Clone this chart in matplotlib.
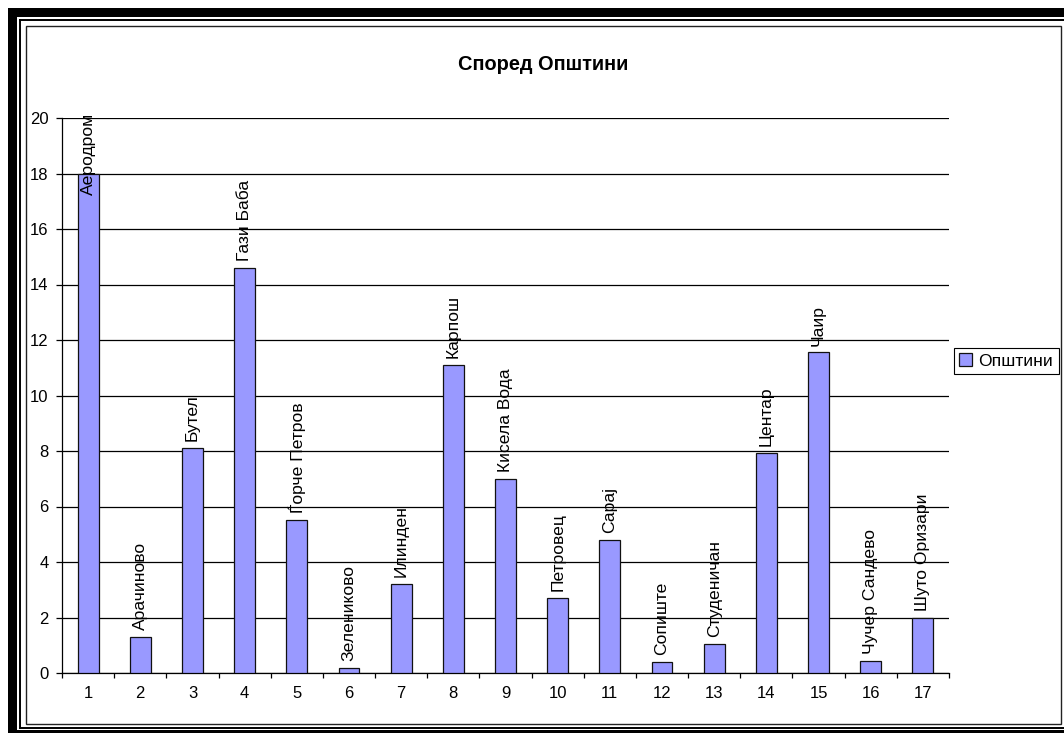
import matplotlib
matplotlib.use("Agg")
import matplotlib.pyplot as plt
from matplotlib.patches import Rectangle
from matplotlib.lines import Line2D

municipalities = [
    "Аеродром", "Арачиново", "Бутел", "Гази Баба", "Ѓорче Петров",
    "Зелениково", "Илинден", "Карпош", "Кисела Вода", "Петровец",
    "Сарај", "Сопиште", "Студеничан", "Центар", "Чаир",
    "Чучер Сандево", "Шуто Оризари",
]
positions = list(range(1, 18))
values = [18.0, 1.3, 8.1, 14.6, 5.5, 0.17, 3.2, 11.1, 7.0, 2.7,
          4.8, 0.41, 1.03, 7.94, 11.55, 0.45, 2.0]
y_ticks = list(range(0, 21, 2))
series_name = "Општини"
title = "Според Општини"

W, H = 1064, 733
plt.rcParams["font.family"] = ["Liberation Sans", "DejaVu Sans"]

fig = plt.figure(figsize=(W / 100, H / 100), dpi=100)
ax = fig.add_axes([62 / W, 1 - 673 / H, 887 / W, 555 / H])


def px_rect(x0, y0, x1, y1, **kw):
    # rectangle given in pixel coords, origin top-left
    fig.add_artist(Rectangle((x0 / W, 1 - y1 / H), (x1 - x0) / W, (y1 - y0) / H,
                             transform=fig.transFigure, **kw))


def px_line(xs, ys, **kw):
    fig.add_artist(Line2D([x / W for x in xs], [1 - y / H for y in ys],
                          transform=fig.transFigure, **kw))


# page frame
px_rect(8, 8, 17, 733, facecolor="black", edgecolor="none")
px_rect(8, 8, 1064, 16.5, facecolor="black", edgecolor="none")
px_rect(8, 730, 1064, 733, facecolor="black", edgecolor="none")
px_line([19.7, 19.7], [19.7, 727.5], color="black", lw=1.4)
px_line([19.7, 1064], [19.7, 19.7], color="black", lw=1.4)
px_line([19.7, 1064], [727.5, 727.5], color="black", lw=1.4)
px_rect(25.5, 26, 1061, 723.5, facecolor="none", edgecolor="#222222", lw=1.0)

bars = ax.bar(positions, values, width=0.4, color="#9999FF",
              edgecolor="#111111", linewidth=0.9, zorder=3)

ax.set_xlim(0.5, 17.5)
ax.set_ylim(0, 20)
ax.set_yticks(y_ticks)
ax.set_axisbelow(True)
ax.yaxis.grid(True, color="black", linewidth=0.9)

ax.set_xticks([p - 0.5 for p in positions] + [positions[-1] + 0.5])
ax.set_xticklabels([])
ax.set_xticks(positions, minor=True)
ax.set_xticklabels([str(p) for p in positions], minor=True)
ax.tick_params(axis="x", which="major", direction="out", length=3.4, width=0.9)
ax.tick_params(axis="x", which="minor", length=0, pad=9.5, labelsize=12)
ax.tick_params(axis="y", direction="out", length=4.3, width=0.9, pad=5.3,
               labelsize=12)

for side in ("top", "right"):
    ax.spines[side].set_visible(False)
for side in ("left", "bottom"):
    ax.spines[side].set_linewidth(0.9)
    ax.spines[side].set_color("black")

labels = []
for x, v, name in zip(positions, values, municipalities):
    t = ax.annotate(name, (x, v), xytext=(0, 5), textcoords="offset points",
                    rotation=90, ha="center", va="bottom", fontsize=12.6,
                    annotation_clip=False)
    labels.append(t)

# keep labels inside the plot area
fig.canvas.draw()
top_limit = ax.get_window_extent().y1 + 5
for t in labels:
    bb = t.get_window_extent()
    if bb.y1 > top_limit:
        shift = (bb.y1 - top_limit) * 72 / fig.dpi
        t.set_position((0, 5 - shift))

leg = ax.legend([bars], [series_name], loc="center left",
                bbox_to_anchor=(954 / W, 1 - 361 / H),
                bbox_transform=fig.transFigure, frameon=True, fancybox=False,
                edgecolor="black", framealpha=1, handlelength=0.7,
                handleheight=0.7, handletextpad=0.4, borderpad=0.3,
                borderaxespad=0, fontsize=12.6)
leg.get_frame().set_linewidth(0.8)

fig.text(543 / W, 1 - 65 / H, title, ha="center", va="center",
         fontsize=14.4, fontweight="bold")

fig.savefig("out.png", dpi=100)
